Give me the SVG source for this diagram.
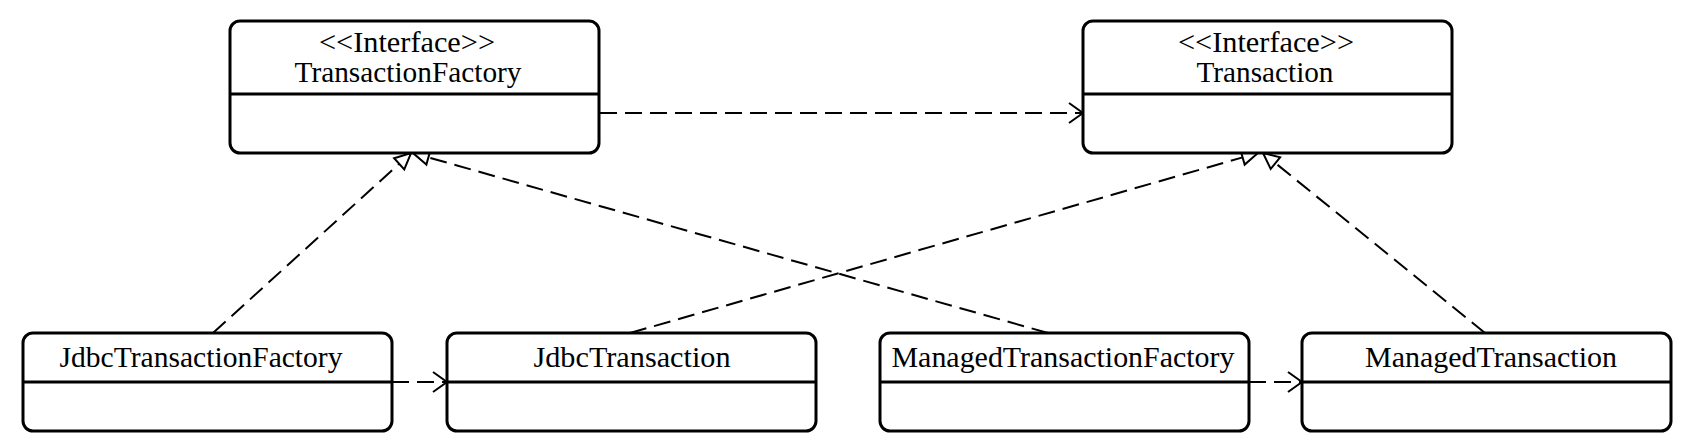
<svg xmlns="http://www.w3.org/2000/svg" width="1683" height="442" viewBox="0 0 1683 442">
<style>
.box{fill:#fff;stroke:#000;stroke-width:3}
.div{stroke:#000;stroke-width:3}
.t{font-family:"Liberation Serif","Times New Roman",serif;font-size:30px;fill:#000;text-anchor:middle}
.c{fill:none;stroke:#000;stroke-width:2;stroke-dasharray:17,8}
</style>
<defs>
<marker id="tri" markerUnits="userSpaceOnUse" markerWidth="20" markerHeight="20" refX="0" refY="0" viewBox="-2 -10 20 20" orient="auto" overflow="visible">
<path d="M0,-7.5 L16,0 L0,7.5 Z" fill="none" stroke="#000" stroke-width="2" stroke-dasharray="none" stroke-linejoin="miter"/>
</marker>
<marker id="open" markerUnits="userSpaceOnUse" markerWidth="20" markerHeight="20" refX="0" refY="0" viewBox="-18 -10 20 20" orient="auto" overflow="visible">
<path d="M-14,-10 L0,0 L-14,10" fill="none" stroke="#000" stroke-width="2" stroke-dasharray="none"/>
</marker>
</defs>
<g id="connectors">
<path class="c" d="M600,113 L1083,113" marker-end="url(#open)"/>
<path class="c" d="M392,382 L447,382" marker-end="url(#open)"/>
<path class="c" d="M1249,382 L1302,382" marker-end="url(#open)"/>
<path class="c" d="M213,333 L399.2,163.8" marker-end="url(#tri)"/>
<path class="c" d="M1048,333 L428.4,157.4" marker-end="url(#tri)"/>
<path class="c" d="M630,333 L1242.6,157.4" marker-end="url(#tri)"/>
<path class="c" d="M1485,333 L1275.4,163.1" marker-end="url(#tri)"/>
</g>
<g id="TransactionFactory">
<rect class="box" x="230" y="21" width="369" height="132" rx="10"/>
<line class="div" x1="230" y1="94" x2="599" y2="94"/>
<text class="t" x="407" y="52" textLength="176" lengthAdjust="spacingAndGlyphs">&lt;&lt;Interface&gt;&gt;</text>
<text class="t" x="408" y="82" textLength="227" lengthAdjust="spacingAndGlyphs">TransactionFactory</text>
</g>
<g id="Transaction">
<rect class="box" x="1083" y="21" width="369" height="132" rx="10"/>
<line class="div" x1="1083" y1="94" x2="1452" y2="94"/>
<text class="t" x="1266" y="52" textLength="176" lengthAdjust="spacingAndGlyphs">&lt;&lt;Interface&gt;&gt;</text>
<text class="t" x="1265" y="82" textLength="137" lengthAdjust="spacingAndGlyphs">Transaction</text>
</g>
<g id="JdbcTransactionFactory">
<rect class="box" x="23" y="333" width="369" height="98" rx="10"/>
<line class="div" x1="23" y1="382" x2="392" y2="382"/>
<text class="t" x="201" y="367" textLength="283" lengthAdjust="spacingAndGlyphs">JdbcTransactionFactory</text>
</g>
<g id="JdbcTransaction">
<rect class="box" x="447" y="333" width="369" height="98" rx="10"/>
<line class="div" x1="447" y1="382" x2="816" y2="382"/>
<text class="t" x="632" y="367" textLength="197" lengthAdjust="spacingAndGlyphs">JdbcTransaction</text>
</g>
<g id="ManagedTransactionFactory">
<rect class="box" x="880" y="333" width="369" height="98" rx="10"/>
<line class="div" x1="880" y1="382" x2="1249" y2="382"/>
<text class="t" x="1063" y="367" textLength="343" lengthAdjust="spacingAndGlyphs">ManagedTransactionFactory</text>
</g>
<g id="ManagedTransaction">
<rect class="box" x="1302" y="333" width="369" height="98" rx="10"/>
<line class="div" x1="1302" y1="382" x2="1671" y2="382"/>
<text class="t" x="1491" y="367" textLength="252" lengthAdjust="spacingAndGlyphs">ManagedTransaction</text>
</g>
</svg>
